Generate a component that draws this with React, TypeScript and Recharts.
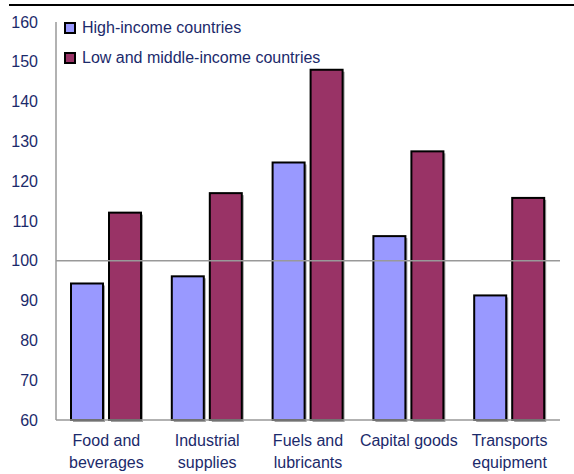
import { Bar, BarChart, ReferenceLine, XAxis, YAxis } from 'recharts';

const CATEGORIES = ['Food and|beverages', 'Industrial|supplies', 'Fuels and|lubricants', 'Capital goods', 'Transports|equipment'];
const HIGH_INCOME = [94.3, 96.1, 124.7, 106.2, 91.3];
const LOW_MIDDLE = [112.1, 117.0, 148.0, 127.5, 115.8];
const Y_TICKS = [60, 70, 80, 90, 100, 110, 120, 130, 140, 150, 160];

const SERIES = [
  { key: 'high', name: 'High-income countries', color: '#9999FF' },
  { key: 'low', name: 'Low and middle-income countries', color: '#993366' },
];

const data = CATEGORIES.map((name, i) => ({ name, high: HIGH_INCOME[i], low: LOW_MIDDLE[i] }));

const TEXT = '#1B2A6B';
const FONT = 'Arial, "Liberation Sans", sans-serif';

function CategoryTick(props: any) {
  const { x, y, payload } = props;
  const lines = String(payload.value).split('|');
  return (
    <text x={x} y={y} textAnchor="middle" fill={TEXT} fontSize={16} fontFamily={FONT}>
      {lines.map((l, i) => (
        <tspan key={i} x={x} dy={i === 0 ? 18 : 22}>
          {l}
        </tspan>
      ))}
    </text>
  );
}

function ShadowBar(props: any) {
  const { x, y, width, height, fill } = props;
  if (!height || height <= 0) return null;
  return (
    <g>
      <rect x={x + 2} y={y + 2} width={width} height={height} fill="#A0A0A0" />
      <rect x={x} y={y} width={width} height={height} fill={fill} stroke="#000" strokeWidth={2} />
    </g>
  );
}

function LegendBox() {
  return (
    <div style={{ position: 'absolute', left: 64, top: 13, fontFamily: FONT, fontSize: 16, color: TEXT }}>
      {SERIES.map((s) => (
        <div key={s.key} style={{ display: 'flex', alignItems: 'center', height: 30, whiteSpace: 'nowrap' }}>
          <span
            style={{
              display: 'inline-block',
              width: 8,
              height: 8,
              background: s.color,
              border: '2px solid #000',
              marginRight: 6,
            }}
          />
          {s.name}
        </div>
      ))}
    </div>
  );
}

export default function App() {
  return (
    <div style={{ position: 'absolute', left: 0, top: 0, width: 574, height: 474, background: '#fff' }}>
      <div style={{ position: 'absolute', left: 9, top: 4, width: 565, height: 2, background: '#000' }} />
      <BarChart
        width={574}
        height={474}
        data={data}
        margin={{ top: 22, right: 14, bottom: 0, left: 0 }}
        barGap={6}
        barSize={32}
      >
        <XAxis
          dataKey="name"
          axisLine={{ stroke: '#999', strokeWidth: 1.5 }}
          tickLine={false}
          interval={0}
          tick={<CategoryTick />}
          height={54}
        />
        <YAxis
          domain={[60, 160]}
          ticks={Y_TICKS}
          width={56}
          axisLine={{ stroke: '#999', strokeWidth: 1.5 }}
          tickLine={false}
          tickMargin={12}
          tick={{ fill: TEXT, fontSize: 16, fontFamily: FONT }}
          interval={0}
        />
        <ReferenceLine y={100} stroke="#999" strokeWidth={1.5} />
        {SERIES.map((s) => (
          <Bar key={s.key} dataKey={s.key} name={s.name} fill={s.color} shape={<ShadowBar />} isAnimationActive={false} />
        ))}
      </BarChart>
      <LegendBox />
    </div>
  );
}
